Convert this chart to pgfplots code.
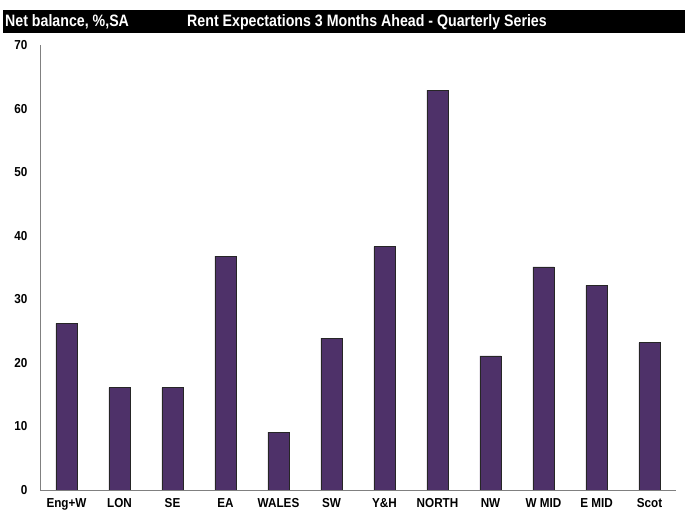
\documentclass[border=0pt]{standalone}
\usepackage{fontspec}
\setmainfont{Liberation Sans}[FakeStretch=0.9]
\newfontfamily\titlefont{Liberation Sans}[FakeStretch=0.86]
\usepackage{pgfplots}
\pgfplotsset{compat=1.18}
\definecolor{barpurple}{RGB}{78,49,105}
\definecolor{axisgray}{RGB}{128,128,128}
\begin{document}
\begin{tikzpicture}
\useasboundingbox (0pt,0pt) rectangle (685pt,513pt);
% title bar
\fill[black] (3pt,480pt) rectangle (685pt,503pt);
\node[anchor=west, inner sep=0pt, text=white, font=\titlefont\fontsize{16.5}{18}\selectfont\bfseries] at (5pt,491pt) {Net balance, \%,SA};
\node[anchor=west, inner sep=0pt, text=white, font=\titlefont\fontsize{16.5}{18}\selectfont\bfseries] at (187pt,491pt) {Rent Expectations 3 Months Ahead - Quarterly Series};
\begin{axis}[
    at={(40pt,23pt)}, anchor=south west,
    scale only axis,
    width=636pt, height=445pt,
    xmin=-0.5, xmax=11.5,
    ymin=0, ymax=70,
    ytick={0,10,...,70},
    xtick=data,
    xticklabels={Eng+W,LON,SE,EA,WALES,SW,Y\&H,NORTH,NW,W MID,E MID,Scot},
    axis lines*=left,
    axis line style={axisgray, line width=0.8pt, -},
    major tick length=0pt,
    /pgf/number format/assume math mode=true,
    tick label style={font=\fontsize{13}{15}\selectfont\bfseries, black},
    yticklabel style={anchor=east, xshift=-9pt},
    xticklabel style={yshift=-5pt},
    ybar, bar width=0.4,
]
\addplot[fill=barpurple, draw=black!85, line width=0.6pt] coordinates {
    (0,26.2) (1,16.1) (2,16.1) (3,36.8) (4,9.1) (5,23.9)
    (6,38.3) (7,62.9) (8,21.1) (9,35.1) (10,32.2) (11,23.2)
};
\end{axis}
\end{tikzpicture}
\end{document}
